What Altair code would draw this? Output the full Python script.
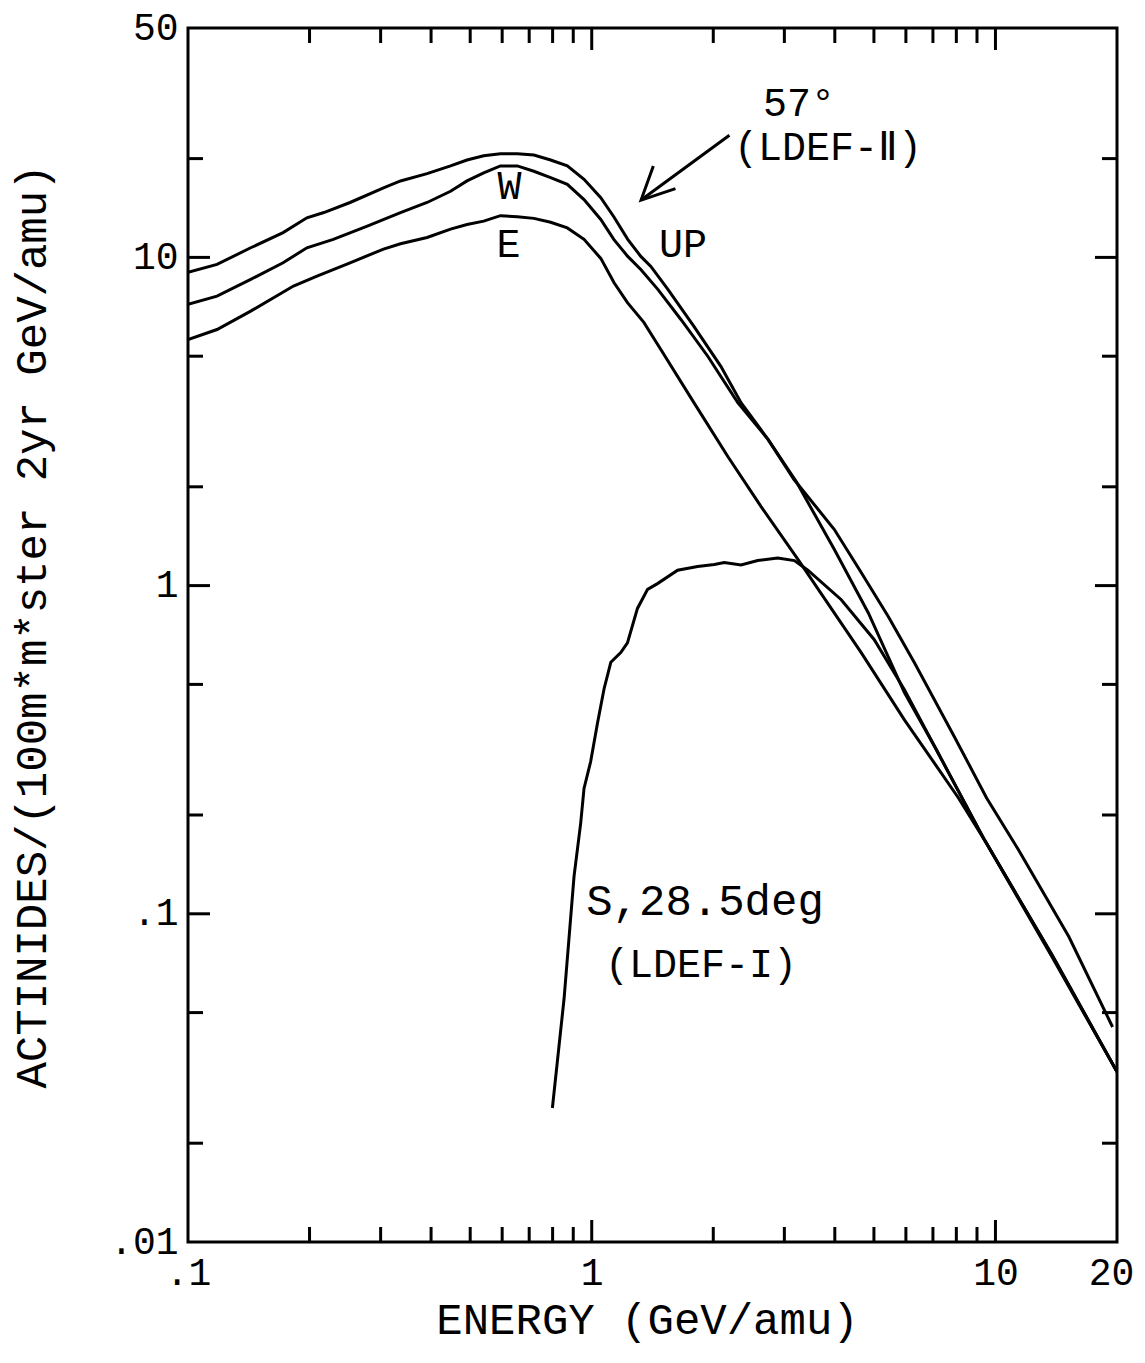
import altair as alt
import pandas as pd

# ---- data (energy in GeV/amu, flux) ----
top_E = [0.1, 0.118, 0.143, 0.172, 0.197, 0.217, 0.252, 0.305, 0.336, 0.391, 0.447, 0.491, 0.540,
         0.594, 0.654, 0.719, 0.791, 0.870, 0.957, 1.053, 1.134, 1.228, 1.323, 1.401, 1.544, 1.791,
         2.09, 2.343, 2.733, 3.17, 3.99, 4.65, 5.43, 6.30, 7.91, 9.50, 11.4, 15.2, 19.5]
top_F = [9.0, 9.52, 10.7, 11.9, 13.2, 13.7, 14.7, 16.3, 17.1, 18.0, 19.0, 19.8, 20.4,
         20.7, 20.7, 20.5, 19.8, 19.0, 17.3, 15.2, 13.3, 11.35, 10.07, 9.39, 7.99, 6.16,
         4.65, 3.61, 2.79, 2.105, 1.482, 1.096, 0.804, 0.582, 0.3465, 0.2258, 0.1567, 0.0851, 0.0452]

mid_E = [0.1, 0.118, 0.143, 0.172, 0.197, 0.229, 0.278, 0.336, 0.391, 0.447, 0.491, 0.540, 0.594,
         0.654, 0.719, 0.791, 0.870, 0.957, 1.053, 1.134, 1.228, 1.323, 1.458, 1.663, 1.94, 2.30,
         2.733, 3.21, 3.99, 4.84, 5.95, 7.14, 9.39, 13.8, 20.0]
mid_F = [7.2, 7.62, 8.57, 9.63, 10.7, 11.35, 12.46, 13.7, 14.7, 15.9, 17.1, 18.1, 19.0,
         19.0, 18.3, 17.5, 16.7, 15.0, 13.05, 11.35, 10.07, 9.19, 7.99, 6.47, 4.99, 3.61,
         2.79, 2.075, 1.288, 0.827, 0.472, 0.316, 0.168, 0.075, 0.033]

low_E = [0.1, 0.118, 0.143, 0.1825, 0.2087, 0.252, 0.305, 0.336, 0.391, 0.447, 0.491, 0.540, 0.594,
         0.654, 0.719, 0.791, 0.870, 0.957, 1.053, 1.136, 1.226, 1.346, 1.483, 1.791, 2.175, 2.627,
         3.245, 4.65, 5.95, 8.09, 9.39, 13.8, 20.0]
low_F = [5.62, 6.03, 6.86, 8.18, 8.77, 9.63, 10.6, 11.0, 11.5, 12.2, 12.6, 12.9, 13.4,
         13.3, 13.15, 12.8, 12.3, 11.35, 9.93, 8.37, 7.28, 6.34, 5.24, 3.61, 2.47, 1.74,
         1.2, 0.625, 0.39, 0.2258, 0.168, 0.074, 0.033]

s_E = [0.799, 0.854, 0.904, 0.939, 0.957, 0.994, 1.033, 1.073, 1.115, 1.18, 1.226, 1.298, 1.375,
       1.455, 1.632, 1.829, 2.012, 2.129, 2.343, 2.577, 2.889, 3.177, 3.43, 4.15, 5.01, 5.95,
       7.14, 9.39, 13.8, 20.0]
s_F = [0.0256, 0.0551, 0.13, 0.189, 0.241, 0.291, 0.38, 0.485, 0.584, 0.625, 0.669, 0.852, 0.974,
       1.014, 1.114, 1.144, 1.16, 1.175, 1.155, 1.192, 1.214, 1.192, 1.114, 0.906, 0.684, 0.482,
       0.316, 0.168, 0.075, 0.033]

# axis tick values
x_label_vals = [0.1, 1, 10, 20]
y_label_vals = [0.01, 0.1, 1, 10, 50]
x_major = [1, 10]
x_minor = [0.2, 0.3, 0.4, 0.5, 0.6, 0.7, 0.8, 0.9, 2, 3, 4, 5, 6, 7, 8, 9]
y_major = [0.1, 1, 10]
y_minor = [0.02, 0.05, 0.2, 0.5, 2, 5, 20]

# annotations (data coordinates)
ann_text = ["W", "E", "UP", "57°", "(LDEF-Ⅱ)", "(LDEF-I)"]
ann_E = [0.626, 0.622, 1.682, 3.26, 3.85, 1.865]
ann_F = [16.35, 10.9, 10.9, 29.3, 21.6, 0.0699]
s_label = "S,28.5deg"
s_label_E = [1.908]
s_label_F = [0.1088]

arrow_part = ["shaft", "shaft", "head", "head", "head"]
arrow_E = [2.193, 1.325, 1.421, 1.325, 1.612]
arrow_F = [23.55, 14.95, 18.98, 14.95, 16.2]

# ---- build tables ----
rows = []
for name, es, fs in [("top", top_E, top_F), ("mid", mid_E, mid_F),
                     ("low", low_E, low_F), ("s", s_E, s_F)]:
    for i, (e, f) in enumerate(zip(es, fs)):
        rows.append({"series": name, "order": i, "energy": e, "flux": f})
curves = pd.DataFrame(rows)

arrow = pd.DataFrame({"part": arrow_part, "order": list(range(len(arrow_E))),
                      "energy": arrow_E, "flux": arrow_F})
ann = pd.DataFrame({"text": ann_text, "energy": ann_E, "flux": ann_F})
sann = pd.DataFrame({"text": [s_label], "energy": s_label_E, "flux": s_label_F})

W, H = 929, 1214
FONT = "Liberation Mono"

xs = alt.Scale(type="log", domain=[0.1, 20], nice=False)
ys = alt.Scale(type="log", domain=[0.01, 50], nice=False)

x_axis = alt.Axis(values=x_label_vals,
                  labelExpr="datum.value < 0.5 ? '.1' : format(datum.value, 'd')",
                  labelOffset={"condition": {"test": "datum.value > 15", "value": -6}, "value": 0},
                  ticks=False, domain=False, grid=False, labelFlush=False, labelOverlap=False,
                  labelPadding=12, title="ENERGY (GeV/amu)", titleX=459, titleY=78,
                  titleBaseline="middle", titleAlign="center")
y_axis = alt.Axis(values=y_label_vals,
                  labelExpr="datum.value < 0.05 ? '.01' : datum.value < 0.5 ? '.1' : format(datum.value, 'd')",
                  ticks=False, domain=False, grid=False, labelFlush=False, labelOverlap=False,
                  labelPadding=10, title="ACTINIDES/(100m*m*ster 2yr GeV/amu)",
                  titleX=-156, titleY=598, titleAngle=270,
                  titleBaseline="middle", titleAlign="center")

lines = alt.Chart(curves).mark_line(color="black", strokeWidth=3, clip=True).encode(
    x=alt.X("energy:Q", scale=xs, axis=x_axis),
    y=alt.Y("flux:Q", scale=ys, axis=y_axis),
    detail="series:N",
    order="order:Q",
)

arrow_layer = alt.Chart(arrow).mark_line(color="black", strokeWidth=3).encode(
    x=alt.X("energy:Q", scale=xs),
    y=alt.Y("flux:Q", scale=ys),
    detail="part:N",
    order="order:Q",
)

text_layer = alt.Chart(ann).mark_text(font=FONT, fontSize=40, color="black",
                                      align="center", baseline="middle").encode(
    x=alt.X("energy:Q", scale=xs),
    y=alt.Y("flux:Q", scale=ys),
    text="text:N",
)
s_text_layer = alt.Chart(sann).mark_text(font=FONT, fontSize=44, color="black",
                                         align="center", baseline="middle").encode(
    x=alt.X("energy:Q", scale=xs),
    y=alt.Y("flux:Q", scale=ys),
    text="text:N",
)

def ytick_layers(vals, length):
    d = pd.DataFrame({"v": vals})
    left = alt.Chart(d).mark_rule(color="black", strokeWidth=3).encode(
        y=alt.Y("v:Q", scale=ys), x=alt.value(0), x2=alt.value(length))
    right = alt.Chart(d).mark_rule(color="black", strokeWidth=3).encode(
        y=alt.Y("v:Q", scale=ys), x=alt.value(W - length), x2=alt.value(W))
    return [left, right]

def xtick_layers(vals, length):
    d = pd.DataFrame({"v": vals})
    bottom = alt.Chart(d).mark_rule(color="black", strokeWidth=3).encode(
        x=alt.X("v:Q", scale=xs), y=alt.value(H), y2=alt.value(H - length))
    top = alt.Chart(d).mark_rule(color="black", strokeWidth=3).encode(
        x=alt.X("v:Q", scale=xs), y=alt.value(0), y2=alt.value(length))
    return [bottom, top]

tick_layers = (ytick_layers(y_major, 22) + ytick_layers(y_minor, 15)
               + xtick_layers(x_major, 22) + xtick_layers(x_minor, 15))

chart = alt.layer(lines, arrow_layer, text_layer, s_text_layer, *tick_layers).properties(
    width=W, height=H,
    autosize=alt.AutoSizeParams(type="none"),
    padding={"left": 180, "top": 20, "right": 20, "bottom": 105},
    background="white",
).configure_view(
    stroke="black", strokeWidth=3
).configure_axis(
    labelFont=FONT, labelFontSize=38, labelColor="black",
    titleFont=FONT, titleFontSize=44, titleFontWeight="normal", titleColor="black",
)

chart.save("out.html", embed_options={"renderer": "svg", "actions": False})
